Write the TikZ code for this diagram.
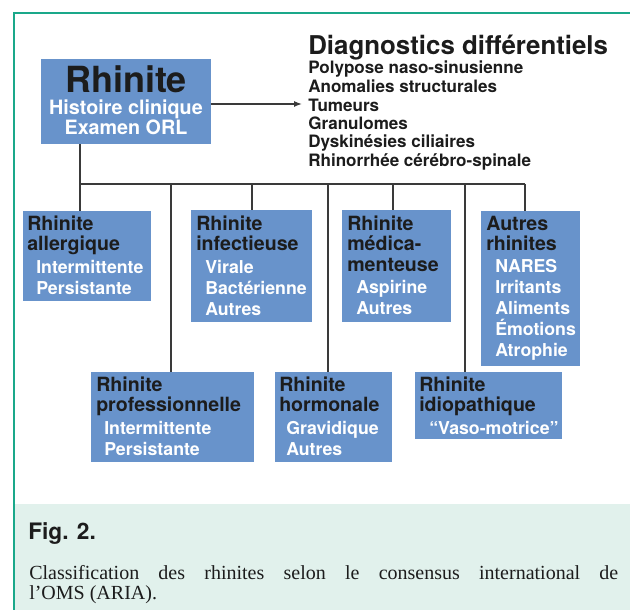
\documentclass[tikz,border=0pt]{standalone}
\usepackage{fontspec}
\newfontfamily\hv{TeX Gyre Heros}
\newfontfamily\capserif{Liberation Serif}
\usetikzlibrary{arrows.meta,fit}
\definecolor{boxblue}{HTML}{6893CB}
\definecolor{headtxt}{HTML}{1C1C1C}
\definecolor{wire}{HTML}{3A3A3A}
\definecolor{framegreen}{HTML}{1AA88A}
\definecolor{capbg}{HTML}{E1F1EC}
\tikzset{
  bx/.style={fill=boxblue, draw=none, inner sep=0pt},
  hd/.style={anchor=base west, inner sep=0pt, text=headtxt, font=\hv\bfseries\fontsize{14.7}{16}\selectfont},
  itm/.style={anchor=base west, inner sep=0pt, text=white, font=\hv\bfseries\fontsize{13.3}{15}\selectfont},
  dg/.style={anchor=base west, inner sep=0pt, text=headtxt, font=\hv\bfseries\fontsize{12.8}{14}\selectfont},
  captxt/.style={anchor=base west, inner sep=0pt, text=headtxt, font=\capserif\fontsize{15}{17}\selectfont},
  wire/.style={draw=wire, line width=1pt},
}
\begin{document}
\begin{tikzpicture}[x=0.75pt, y=-0.75pt]
\useasboundingbox (0,0) rectangle (630,609);
% caption background and frame
\fill[capbg] (15,504) rectangle (632,611);
\draw[framegreen, line width=1.5pt] (13.5,612) -- (13.5,13) -- (633,13);
% main box
\node[bx, fit={(41,59) (211,144)}] (main) {};
\node[anchor=base, inner sep=0pt, text=headtxt, font=\hv\bfseries\fontsize{27}{30}\selectfont] (mt1) at (126,93) {Rhinite};
\node[anchor=base, inner sep=0pt, text=white, font=\hv\bfseries\fontsize{14.8}{16}\selectfont] (mt2) at (126,115) {Histoire clinique};
\node[anchor=base, inner sep=0pt, text=white, font=\hv\bfseries\fontsize{14.8}{16}\selectfont] (mt3) at (126,135) {Examen ORL};
% differential diagnoses
\node[anchor=base west, inner sep=0pt, text=headtxt, font=\hv\bfseries\fontsize{19.4}{21}\selectfont] (dgt) at (308,55) {Diagnostics différentiels};
\node[dg] (dg1) at (308,74) {Polypose naso-sinusienne};
\node[dg] (dg2) at (308,93) {Anomalies structurales};
\node[dg] (dg3) at (308,112) {Tumeurs};
\node[dg] (dg4) at (308,130) {Granulomes};
\node[dg] (dg5) at (308,148) {Dyskinésies ciliaires};
\node[dg] (dg6) at (308,167) {Rhinorrhée cérébro-spinale};
\coordinate (arrEnd) at (302,104);
\draw[wire, -{Latex[length=6pt,width=4.5pt]}] (main.east |- arrEnd) -- (arrEnd);
% child boxes
\node[bx, fit={(23,211) (151,301)}] (allerg) {};
\node[bx, fit={(191,210) (312,322)}] (infect) {};
\node[bx, fit={(342,210) (451,322)}] (medic) {};
\node[bx, fit={(481,211) (580,366)}] (autres) {};
\node[bx, fit={(91,372) (254,462)}] (profess) {};
\node[bx, fit={(275,372) (392,462)}] (hormon) {};
\node[bx, fit={(415,372) (562,439)}] (idiop) {};
% connectors
\coordinate (cA) at (80,184);
\coordinate (cP) at (171,184);
\coordinate (cI) at (252,184);
\coordinate (cH) at (328,184);
\coordinate (cM) at (393,184);
\coordinate (cD) at (465,184);
\coordinate (cO) at (525,184);
\draw[wire] (main.south -| cA) -- (cA) -- (cO);
\draw[wire] (cA) -- (cA |- allerg.north);
\draw[wire] (cP) -- (cP |- profess.north);
\draw[wire] (cI) -- (cI |- infect.north);
\draw[wire] (cH) -- (cH |- hormon.north);
\draw[wire] (cM) -- (cM |- medic.north);
\draw[wire] (cD) -- (cD |- idiop.north);
\draw[wire] (cO) -- (cO |- autres.north);
% allergique
\node[hd] (al1) at (27,230) {Rhinite};
\node[hd] (al2) at (27,250) {allergique};
\node[itm] (al3) at (36,273) {Intermittente};
\node[itm] (al4) at (36,294) {Persistante};
% infectieuse
\node[hd] (in1) at (196,230) {Rhinite};
\node[hd] (in2) at (196,250) {infectieuse};
\node[itm] (in3) at (205,273) {Virale};
\node[itm] (in4) at (205,294) {Bactérienne};
\node[itm] (in5) at (205,315) {Autres};
% medicamenteuse
\node[hd] (me1) at (347,230) {Rhinite};
\node[hd] (me2) at (347,250) {médica-};
\node[hd] (me3) at (347,271) {menteuse};
\node[itm] (me4) at (356,293) {Aspirine};
\node[itm] (me5) at (356,314) {Autres};
% autres
\node[hd] (au1) at (486,230) {Autres};
\node[hd] (au2) at (486,250) {rhinites};
\node[itm] (au3) at (495,272) {NARES};
\node[itm] (au4) at (495,293) {Irritants};
\node[itm] (au5) at (495,314) {Aliments};
\node[itm] (au6) at (495,335) {Émotions};
\node[itm] (au7) at (495,356) {Atrophie};
% professionnelle
\node[hd] (pr1) at (96,391) {Rhinite};
\node[hd] (pr2) at (96,411) {professionnelle};
\node[itm] (pr3) at (104,434) {Intermittente};
\node[itm] (pr4) at (104,455) {Persistante};
% hormonale
\node[hd] (ho1) at (279,391) {Rhinite};
\node[hd] (ho2) at (279,411) {hormonale};
\node[itm] (ho3) at (286,434) {Gravidique};
\node[itm] (ho4) at (286,455) {Autres};
% idiopathique
\node[hd] (id1) at (419,391) {Rhinite};
\node[hd] (id2) at (419,411) {idiopathique};
\node[itm] (id3) at (429,434) {“Vaso-motrice”};
% caption
\node[anchor=base west, inner sep=0pt, text=headtxt, font=\hv\bfseries\fontsize{17}{20}\selectfont] (fig) at (28,539) {Fig. 2.};
\node[captxt] (cap1) at (29,579) {\makebox[589\dimexpr 0.75pt\relax][s]{Classification des rhinites selon le consensus international de}};
\node[captxt] (cap2) at (29,599) {l’OMS (ARIA).};
\end{tikzpicture}
\end{document}
